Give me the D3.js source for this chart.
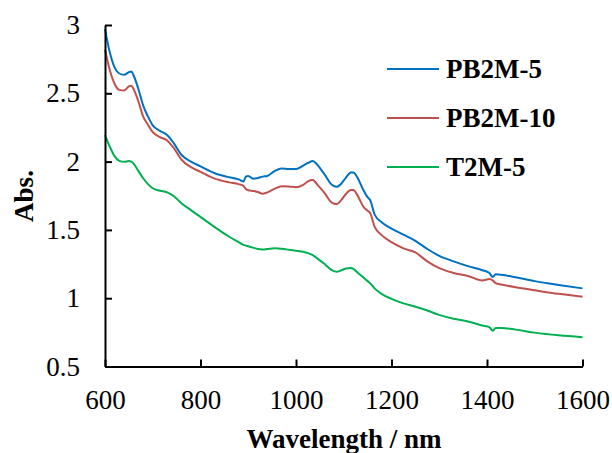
<!DOCTYPE html>
<html>
<head>
<meta charset="utf-8">
<script src="https://cdn.jsdelivr.net/npm/d3@7"></script>
<style>
  html, body { margin: 0; padding: 0; background: #fff; }
  svg { display: block; }
</style>
</head>
<body>
<svg id="chart" width="612" height="453"></svg>
<script>
// ---- data ----
const wavelengths = [600, 610, 620, 630, 640, 650, 655, 660, 670, 680, 690, 700, 715, 730, 745, 760, 780, 800, 830, 860, 880, 890, 895, 900, 910, 920, 930, 940, 955, 970, 985, 1000, 1015, 1025, 1035, 1045, 1060, 1075, 1085, 1095, 1105, 1115, 1120, 1130, 1140, 1150, 1155, 1165, 1180, 1200, 1225, 1250, 1275, 1300, 1330, 1360, 1390, 1405, 1412, 1418, 1430, 1460, 1500, 1550, 1600];

const pb2m5 = [2.97, 2.80, 2.69, 2.645, 2.635, 2.655, 2.66, 2.63, 2.53, 2.41, 2.33, 2.265, 2.225, 2.195, 2.13, 2.05, 2.0, 1.965, 1.915, 1.885, 1.87, 1.855, 1.89, 1.895, 1.875, 1.88, 1.89, 1.895, 1.93, 1.95, 1.945, 1.945, 1.97, 1.99, 2.005, 1.975, 1.905, 1.83, 1.815, 1.84, 1.885, 1.92, 1.92, 1.875, 1.80, 1.74, 1.72, 1.61, 1.555, 1.51, 1.465, 1.42, 1.36, 1.31, 1.27, 1.235, 1.205, 1.185, 1.155, 1.175, 1.172, 1.153, 1.125, 1.097, 1.072];

const pb2m10 = [2.82, 2.67, 2.57, 2.525, 2.52, 2.55, 2.555, 2.53, 2.44, 2.33, 2.27, 2.215, 2.18, 2.155, 2.095, 2.015, 1.96, 1.925, 1.875, 1.848, 1.835, 1.822, 1.80, 1.79, 1.785, 1.778, 1.765, 1.775, 1.80, 1.82, 1.818, 1.812, 1.83, 1.855, 1.865, 1.83, 1.77, 1.70, 1.69, 1.72, 1.765, 1.792, 1.792, 1.745, 1.675, 1.64, 1.625, 1.52, 1.46, 1.41, 1.365, 1.335, 1.27, 1.22, 1.185, 1.163, 1.13, 1.14, 1.13, 1.11, 1.10, 1.08, 1.058, 1.032, 1.011];

const t2m5 = [2.195, 2.11, 2.04, 2.005, 1.998, 2.004, 2.0, 1.985, 1.93, 1.878, 1.835, 1.805, 1.787, 1.775, 1.745, 1.695, 1.645, 1.595, 1.52, 1.45, 1.41, 1.39, 1.385, 1.38, 1.37, 1.36, 1.357, 1.36, 1.365, 1.362, 1.355, 1.348, 1.34, 1.33, 1.315, 1.29, 1.25, 1.205, 1.193, 1.205, 1.218, 1.222, 1.215, 1.185, 1.155, 1.125, 1.11, 1.07, 1.03, 0.995, 0.962, 0.938, 0.91, 0.878, 0.85, 0.83, 0.80, 0.788, 0.762, 0.782, 0.782, 0.77, 0.748, 0.728, 0.714];

const seriesNames = ["PB2M-5", "PB2M-10", "T2M-5"];
const seriesColors = ["#0070C0", "#C0504D", "#00B050"];
const xTicks = [600, 800, 1000, 1200, 1400, 1600];
const yTicks = [0.5, 1, 1.5, 2, 2.5, 3];

// ---- chart ----
const svg = d3.select("#chart");
const FONT = "'Liberation Serif', 'Times New Roman', serif";

const x = d3.scaleLinear().domain([600, 1600]).range([105, 582.5]);
const y = d3.scaleLinear().domain([0.5, 3]).range([366.5, 25]);

const allSeries = [pb2m5, pb2m10, t2m5].map((vals, i) => ({
  name: seriesNames[i],
  color: seriesColors[i],
  points: wavelengths.map((w, j) => [w, vals[j]])
}));

const line = d3.line()
  .x(d => x(d[0]))
  .y(d => y(d[1]))
  .curve(d3.curveMonotoneX);

svg.append("g").selectAll("path")
  .data(allSeries)
  .join("path")
  .attr("d", d => line(d.points))
  .attr("fill", "none")
  .attr("stroke", d => d.color)
  .attr("stroke-width", 2);

// axes
const yAxis = d3.axisLeft(y).tickValues(yTicks).tickFormat(d3.format("~g"))
  .tickSizeInner(-7).tickSizeOuter(0).tickPadding(25);
const gy = svg.append("g").attr("transform", "translate(105,0)").call(yAxis);

const xAxis = d3.axisBottom(x).tickValues(xTicks).tickFormat(d3.format("d"))
  .tickSizeInner(-7).tickSizeOuter(0).tickPadding(23);
const gx = svg.append("g").attr("transform", "translate(0,366.5)").call(xAxis);

[gx, gy].forEach(g => {
  g.select(".domain").attr("stroke", "#000").attr("stroke-width", 2);
  g.selectAll(".tick line").attr("stroke", "#000").attr("stroke-width", 2);
  g.selectAll(".tick text").attr("fill", "#000")
    .style("font-family", FONT).style("font-size", "27px");
});

// axis titles
svg.append("text")
  .attr("x", 344).attr("y", 448)
  .attr("text-anchor", "middle")
  .style("font-family", FONT).style("font-size", "27px").style("font-weight", "bold")
  .text("Wavelength / nm");

svg.append("text")
  .attr("transform", "translate(33,196) rotate(-90)")
  .attr("text-anchor", "middle")
  .style("font-family", FONT).style("font-size", "27px").style("font-weight", "bold")
  .text("Abs.");

// legend
const legendY = [69, 118, 167];
const lg = svg.append("g").selectAll("g")
  .data(allSeries)
  .join("g")
  .attr("transform", (d, i) => `translate(387,${legendY[i]})`);
lg.append("line")
  .attr("x1", 0).attr("x2", 52).attr("y1", 0).attr("y2", 0)
  .attr("stroke", d => d.color).attr("stroke-width", 2);
lg.append("text")
  .attr("x", 59).attr("y", 0).attr("dy", "0.35em")
  .style("font-family", FONT).style("font-size", "27px").style("font-weight", "bold")
  .text(d => d.name);
</script>
</body>
</html>
